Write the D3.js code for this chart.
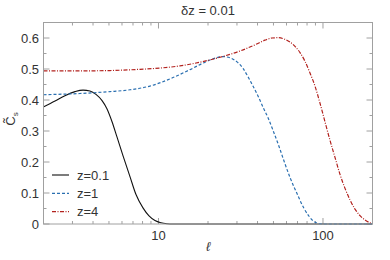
<!DOCTYPE html>
<html><head><meta charset="utf-8">
<script src="https://cdn.jsdelivr.net/npm/d3@7"></script>
<style>body{margin:0;background:#fff}svg{display:block}text{font-family:"Liberation Sans",Arial,sans-serif}</style>
</head><body><svg id="c" width="390" height="260"></svg>
<script>
const title = "δz = 0.01";
const seriesNames = ["z=0.1", "z=1", "z=4"];
const ell01 = [2.0, 2.35, 2.70, 3.11, 3.48, 3.83, 4.17, 4.54, 4.86, 5.22, 5.60, 6.09, 6.71, 7.30, 8.05, 8.76, 9.52, 10.36, 11.26, 12.25, 20, 50, 100, 200];
const c01   = [0.378, 0.397, 0.414, 0.427, 0.432, 0.429, 0.418, 0.398, 0.372, 0.330, 0.280, 0.220, 0.153, 0.095, 0.052, 0.026, 0.011, 0.004, 0.001, 0, 0, 0, 0, 0];
const ell1 = [2.0, 3.33, 5.07, 6.71, 8.88, 11.75, 15.54, 19.18, 22.06, 24.68, 27.21, 30.02, 32.65, 35.02, 37.55, 40.27, 43.19, 46.33, 49.69, 54.05, 57.97, 63.05, 69.53, 76.7, 82.27, 88.2, 95.9, 102.9, 200];
const c1   = [0.417, 0.421, 0.427, 0.433, 0.445, 0.468, 0.498, 0.522, 0.535, 0.540, 0.536, 0.523, 0.502, 0.475, 0.445, 0.413, 0.377, 0.343, 0.302, 0.250, 0.203, 0.150, 0.098, 0.050, 0.025, 0.008, 0.001, 0, 0];
const ell4 = [2.0, 3.33, 5.07, 7.72, 10.2, 13.5, 17.9, 23.7, 31.3, 38.6, 44.4, 49.0, 53.3, 58.0, 63.0, 67.6, 72.5, 77.7, 83.4, 89.4, 95.9, 102.8, 110.3, 118.3, 126.9, 136.1, 145.9, 156.5, 167.9, 180.0, 193.1, 200];
const c4   = [0.494, 0.494, 0.495, 0.499, 0.503, 0.510, 0.522, 0.538, 0.558, 0.578, 0.593, 0.600, 0.601, 0.597, 0.587, 0.573, 0.553, 0.525, 0.487, 0.445, 0.390, 0.330, 0.270, 0.215, 0.160, 0.115, 0.078, 0.048, 0.027, 0.013, 0.004, 0.002];
const yTicks = [0, 0.1, 0.2, 0.3, 0.4, 0.5, 0.6];
const yMinor = [0.05, 0.15, 0.25, 0.35, 0.45, 0.55];
const xTicks = [10, 100];
const xMinor = [3, 4, 5, 6, 7, 8, 9, 20, 30, 40, 50, 60, 70, 80, 90];

const svg = d3.select("#c");
const L = 43.5, R = 372.5, T = 22.5, B = 224;
const x = d3.scaleLog().domain([2, 200]).range([L, R]);
const y = d3.scaleLinear().domain([0, 0.65]).range([B, T]);
const frame = "#a0a0a0", lab = "#333";

const tk = svg.append("g").attr("stroke", frame).attr("stroke-width", 1);
xTicks.forEach(v => { tk.append("line").attr("x1", x(v)).attr("x2", x(v)).attr("y1", B).attr("y2", B - 6);
  tk.append("line").attr("x1", x(v)).attr("x2", x(v)).attr("y1", T).attr("y2", T + 6); });
xMinor.forEach(v => { tk.append("line").attr("x1", x(v)).attr("x2", x(v)).attr("y1", B).attr("y2", B - 3);
  tk.append("line").attr("x1", x(v)).attr("x2", x(v)).attr("y1", T).attr("y2", T + 3); });
yTicks.forEach(v => { tk.append("line").attr("x1", L).attr("x2", L + 6).attr("y1", y(v)).attr("y2", y(v));
  tk.append("line").attr("x1", R).attr("x2", R - 6).attr("y1", y(v)).attr("y2", y(v)); });
yMinor.forEach(v => { tk.append("line").attr("x1", L).attr("x2", L + 3).attr("y1", y(v)).attr("y2", y(v));
  tk.append("line").attr("x1", R).attr("x2", R - 3).attr("y1", y(v)).attr("y2", y(v)); });

svg.append("g").selectAll("text").data(yTicks).join("text")
  .attr("x", 39).attr("y", d => y(d)).attr("dy", "0.36em").attr("text-anchor", "end")
  .attr("font-size", 13).attr("fill", lab).text(d => d === 0 ? "0" : d3.format(".1f")(d));
svg.append("g").selectAll("text").data(xTicks).join("text")
  .attr("x", d => x(d)).attr("y", 240).attr("text-anchor", "middle")
  .attr("font-size", 13).attr("fill", lab).text(d => d);

const line = d3.line().x(d => x(d[0])).y(d => y(d[1])).curve(d3.curveMonotoneX);
const series = [
  {name: seriesNames[0], data: d3.zip(ell01, c01), color: "#111", dash: null, w: 1.1},
  {name: seriesNames[1], data: d3.zip(ell1, c1), color: "#2a6fb0", dash: "3,2", w: 1.2},
  {name: seriesNames[2], data: d3.zip(ell4, c4), color: "#b2221e", dash: "4,1.5,1,1.5", w: 1.2}
];
svg.append("clipPath").attr("id", "clp").append("rect").attr("x", L).attr("y", T).attr("width", R - L).attr("height", B - T + 1);
series.forEach(s => svg.append("path").attr("d", line(s.data)).attr("fill", "none")
  .attr("stroke", s.color).attr("stroke-width", s.w).attr("stroke-dasharray", s.dash).attr("clip-path", "url(#clp)"));

svg.append("rect").attr("x", L).attr("y", T).attr("width", R - L).attr("height", B - T)
  .attr("fill", "none").attr("stroke", frame).attr("stroke-width", 1);

const lg = svg.append("g");
series.forEach((s, i) => {
  const yy = 175 + i * 18.3;
  lg.append("line").attr("x1", 52).attr("x2", 69).attr("y1", yy).attr("y2", yy)
    .attr("stroke", s.color).attr("stroke-width", s.w).attr("stroke-dasharray", s.dash);
  lg.append("text").attr("x", 77).attr("y", yy).attr("dy", "0.36em").attr("font-size", 13).attr("fill", lab).text(s.name);
});

svg.append("text").attr("x", (L + R) / 2).attr("y", 15).attr("text-anchor", "middle").attr("font-size", 13).attr("fill", lab).text(title);
svg.append("text").attr("x", 208).attr("y", 251).attr("text-anchor", "middle").attr("font-size", 13)
  .attr("font-family", "DejaVu Sans").attr("font-style", "italic").attr("fill", lab).text("ℓ");
const yl = svg.append("text").attr("transform", "translate(15,119) rotate(-90)").attr("text-anchor", "middle")
  .attr("font-size", 13).attr("fill", lab);
yl.append("tspan").text("C\u0303");
yl.append("tspan").attr("font-size", 8).attr("dy", 3).text("s");
</script></body></html>
